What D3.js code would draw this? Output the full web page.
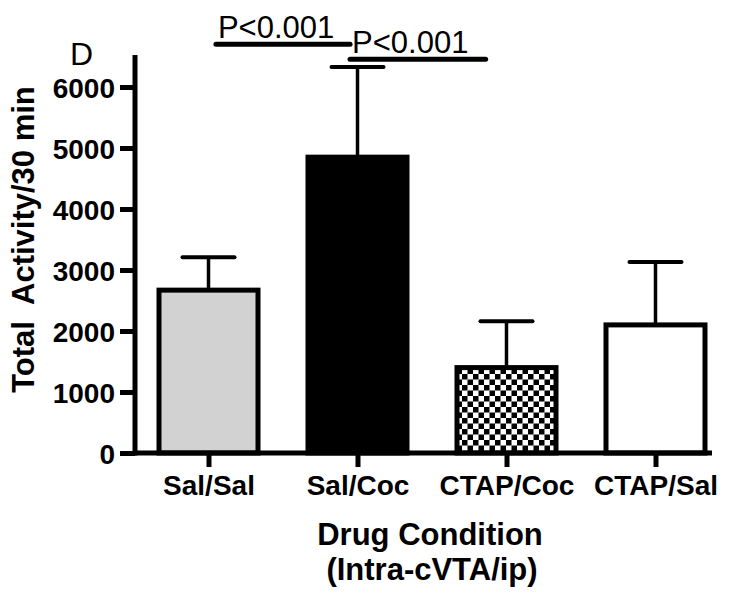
<!DOCTYPE html>
<html>
<head>
<meta charset="utf-8">
<script src="https://cdn.jsdelivr.net/npm/d3@7"></script>
<style>
  body { margin: 0; background: #fff; }
  text { font-family: "Liberation Sans", Arial, sans-serif; }
</style>
</head>
<body>
<script>
// values
var categories = ["Sal/Sal", "Sal/Coc", "CTAP/Coc", "CTAP/Sal"];
var means = [2670, 4850, 1400, 2100];
var upper = [3210, 6330, 2160, 3130]; // mean + SEM
var fills = ["#d2d2d2", "#000", "url(#checker)", "#fff"];
var yTicks = [0, 1000, 2000, 3000, 4000, 5000, 6000];
var pLabels = ["P<0.001", "P<0.001"];
var pFrom = [0, 1];
var pTo = [1, 2];
var pLevel = [6700, 6455];

var width = 750, height = 601;

var svg = d3.select("body").append("svg")
    .attr("width", width)
    .attr("height", height);

var checker = svg.append("defs").append("pattern")
    .attr("id", "checker")
    .attr("patternUnits", "userSpaceOnUse")
    .attr("width", 11)
    .attr("height", 11);
checker.append("rect").attr("width", 11).attr("height", 11).attr("fill", "#fff");
checker.append("rect").attr("width", 5.5).attr("height", 5.5).attr("fill", "#000");
checker.append("rect").attr("x", 5.5).attr("y", 5.5).attr("width", 5.5).attr("height", 5.5).attr("fill", "#000");

var x = d3.scalePoint()
    .domain(categories)
    .range([134, 730])
    .padding(0.5);
var step = x.step();
var barW = 99;

var y = d3.scaleLinear()
    .domain([0, 6525])
    .range([453, 55]);

// bars
svg.append("g").selectAll("rect")
    .data(categories)
    .enter().append("rect")
    .attr("x", function (d) { return x(d) - barW / 2; })
    .attr("y", function (d, i) { return y(means[i]); })
    .attr("width", barW)
    .attr("height", function (d, i) { return y(0) - y(means[i]); })
    .attr("fill", function (d, i) { return fills[i]; })
    .attr("stroke", "#000")
    .attr("stroke-width", 5);

// error bars (upper only)
var err = svg.append("g").attr("stroke", "#000");
err.selectAll("line.v")
    .data(categories)
    .enter().append("line")
    .attr("class", "v")
    .attr("x1", function (d) { return x(d); })
    .attr("x2", function (d) { return x(d); })
    .attr("y1", function (d, i) { return y(means[i]) - 2; })
    .attr("y2", function (d, i) { return y(upper[i]); })
    .attr("stroke-width", 3.5);
err.selectAll("line.c")
    .data(categories)
    .enter().append("line")
    .attr("class", "c")
    .attr("x1", function (d) { return x(d) - 26; })
    .attr("x2", function (d) { return x(d) + 26; })
    .attr("y1", function (d, i) { return y(upper[i]); })
    .attr("y2", function (d, i) { return y(upper[i]); })
    .attr("stroke-width", 4)
    .attr("stroke-linecap", "round");

// y axis
var yAxis = svg.append("g")
    .attr("transform", "translate(135,0)")
    .call(d3.axisLeft(y).tickValues(yTicks).tickSize(15).tickPadding(5).tickFormat(d3.format("d")));
yAxis.select(".domain").remove();
yAxis.selectAll(".tick line").attr("stroke", "#000").attr("stroke-width", 5);
yAxis.selectAll(".tick text")
    .attr("fill", "#000")
    .style("font-size", "28px")
    .style("font-weight", "bold")
    .attr("dy", "0.36em");
yAxis.append("line")
    .attr("y1", y(0) + 2.5).attr("y2", y.range()[1])
    .attr("stroke", "#000").attr("stroke-width", 5);

// x axis
var xAxis = svg.append("g")
    .attr("transform", "translate(0," + y(0) + ")")
    .call(d3.axisBottom(x).tickSize(14).tickPadding(8));
xAxis.select(".domain").remove();
xAxis.selectAll(".tick line").attr("stroke", "#000").attr("stroke-width", 5);
xAxis.selectAll(".tick text")
    .attr("fill", "#000")
    .style("font-size", "28px")
    .style("font-weight", "bold")
    .attr("dy", "0.72em");
xAxis.append("line")
    .attr("x1", 133).attr("x2", 712)
    .attr("stroke", "#000").attr("stroke-width", 5);

// axis titles
svg.append("text")
    .attr("transform", "translate(34," + y(3500) + ") rotate(-90)")
    .attr("text-anchor", "middle")
    .style("font-size", "31px")
    .style("font-weight", "bold")
    .style("white-space", "pre")
    .text("Total  Activity/30 min");

var xt = svg.append("text")
    .attr("text-anchor", "middle")
    .style("font-size", "31px")
    .style("font-weight", "bold");
xt.append("tspan").attr("x", 430).attr("y", 545).text("Drug Condition");
xt.append("tspan").attr("x", 432).attr("y", 580).text("(Intra-cVTA/ip)");

// panel letter
svg.append("text")
    .attr("x", 70).attr("y", 65)
    .style("font-size", "32px")
    .text("D");

// significance brackets
var offA = [0.05, -0.05];
var offB = [-0.05, -0.14];
pLabels.forEach(function (lab, i) {
    var x1 = x(categories[pFrom[i]]) + offA[i] * step;
    var x2 = x(categories[pTo[i]]) + offB[i] * step;
    svg.append("line")
        .attr("x1", x1).attr("x2", x2)
        .attr("y1", y(pLevel[i])).attr("y2", y(pLevel[i]))
        .attr("stroke", "#000")
        .attr("stroke-width", 5)
        .attr("stroke-linecap", "round");
    svg.append("text")
        .attr("x", x1 + 2)
        .attr("y", y(pLevel[i]) - 6)
        .style("font-size", "31px")
        .text(lab);
});
</script>
</body>
</html>
